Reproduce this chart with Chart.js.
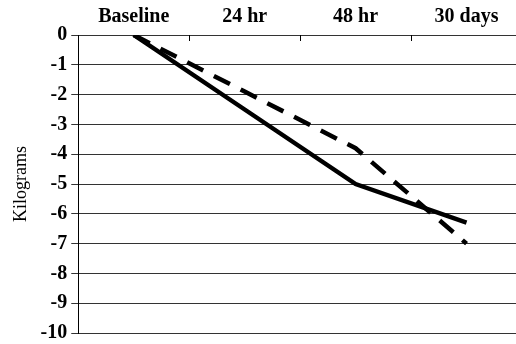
<!DOCTYPE html>
<html><head><meta charset="utf-8">
<script src="https://cdn.jsdelivr.net/npm/chart.js@4/dist/chart.umd.min.js"></script>
<style>
html,body{margin:0;padding:0;background:#fff;overflow:hidden;width:516px;height:344px;}
#wrap{width:522px;height:349px;position:relative;}
</style></head>
<body>
<div id="wrap"><canvas id="c"></canvas></div>
<script>
const categories = ["Baseline", "24 hr", "48 hr", "30 days"];
const solidSeries = [0, -2.5, -5, -6.3];
const dashedSeries = [0, -1.9, -3.8, -7.0];
const yTicks = [0, -1, -2, -3, -4, -5, -6, -7, -8, -9, -10];

const innerTicks = {
  id: 'innerTicks',
  afterDraw(chart) {
    const x = chart.scales.x, ctx = chart.ctx, top = chart.chartArea.top;
    ctx.save();
    ctx.strokeStyle = '#000';
    ctx.lineWidth = 1;
    for (let i = 0; i < categories.length - 1; i++) {
      const px = Math.round((x.getPixelForValue(i) + x.getPixelForValue(i + 1)) / 2) + 0.5;
      ctx.beginPath(); ctx.moveTo(px, top); ctx.lineTo(px, top + 6); ctx.stroke();
    }
    ctx.restore();
  }
};

new Chart(document.getElementById('c'), {
  type: 'line',
  data: {
    labels: categories,
    datasets: [
      { data: solidSeries, borderColor: '#000', borderWidth: 4.5, pointRadius: 0, tension: 0, fill: false },
      { data: dashedSeries, borderColor: '#000', borderWidth: 4.5, borderDash: [18, 12], pointRadius: 0, tension: 0, fill: false }
    ]
  },
  options: {
    responsive: true, maintainAspectRatio: false, animation: false,
    layout: { padding: { top: -1, right: 0, bottom: 0, left: 10 } },
    plugins: { legend: { display: false }, tooltip: { enabled: false } },
    scales: {
      x: {
        position: 'top', offset: true,
        grid: { display: false, drawTicks: false },
        border: { display: false },
        ticks: { color: '#000', font: { family: 'Liberation Serif', size: 20, weight: 'bold' }, padding: 6, maxRotation: 0 }
      },
      y: {
        min: -10, max: 0,
        afterBuildTicks(axis) { axis.ticks = yTicks.map(v => ({ value: v })); },
        grid: { color: '#333', lineWidth: 1, tickLength: 7, drawTicks: true },
        border: { display: true, color: '#000', width: 1 },
        ticks: { color: '#000', font: { family: 'Liberation Serif', size: 20, weight: 'bold' }, padding: 4 },
        title: { display: true, text: 'Kilograms', color: '#000', font: { family: 'Liberation Serif', size: 18 }, padding: { top: 0, bottom: 5 } }
      }
    }
  },
  plugins: [innerTicks]
});
</script>
</body></html>
